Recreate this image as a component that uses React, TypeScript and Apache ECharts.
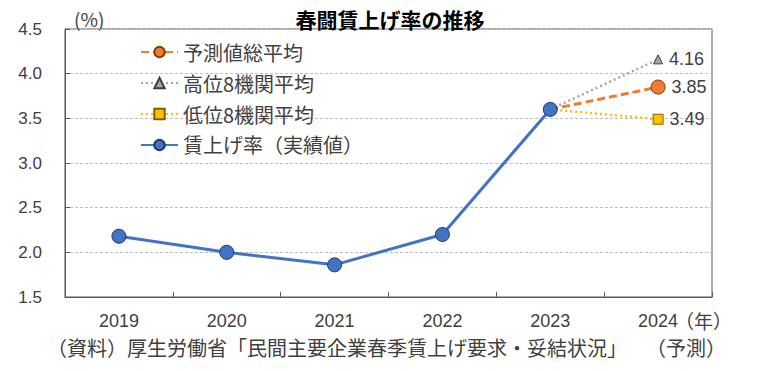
import React, { useEffect, useRef } from "react";
import * as echarts from "echarts";

const categories = ["2019", "2020", "2021", "2022", "2023", "2024"];
const actualValues = [2.18, 2.0, 1.86, 2.2, 3.6, null];
const forecastAvgValues = [null, null, null, null, 3.6, 3.85];
const highValues = [null, null, null, null, 3.6, 4.16];
const lowValues = [null, null, null, null, 3.6, 3.49];
const yTicks = { min: 1.5, max: 4.5, interval: 0.5 };

const FONT = "'Liberation Sans', 'Noto Sans CJK JP', sans-serif";
const CJK = "'Noto Sans CJK JP', sans-serif";
const TXT = "#404040";

function forecastData(values: (number | null)[]) {
  return values.map((v, i) => {
    if (v === null) return null;
    if (i === values.length - 1) {
      return { value: v, label: { show: true } };
    }
    return { value: v, symbol: "none" };
  });
}

export default function App() {
  const ref = useRef<HTMLDivElement>(null);
  useEffect(() => {
    if (!ref.current) return;
    const chart = echarts.init(ref.current, null, { renderer: "svg" });
    const labelStyle = {
      show: false,
      position: "right",
      distance: 6,
      fontSize: 18,
      color: TXT,
      fontFamily: FONT,
      formatter: (p: any) => Number(p.value).toFixed(2),
    };
    chart.setOption({
      animation: false,
      textStyle: { fontFamily: FONT },
      title: {
        text: "春闘賃上げ率の推移",
        left: 385,
        textAlign: "center",
        top: 3,
        textStyle: { fontSize: 21, fontWeight: "bold", color: "#000", fontFamily: CJK },
      },
      grid: {
        left: 65,
        right: 54,
        top: 29,
        bottom: 74,
        show: true,
        borderColor: "#595959",
        borderWidth: 1,
        backgroundColor: "transparent",
      },
      legend: {
        orient: "vertical",
        left: 135,
        top: 37,
        itemWidth: 37,
        itemHeight: 13,
        itemGap: 11,
        textStyle: { fontSize: 20, color: TXT, fontFamily: CJK },
        data: ["予測値総平均", "高位8機関平均", "低位8機関平均", "賃上げ率（実績値）"],
      },
      xAxis: {
        type: "category",
        data: categories,
        boundaryGap: true,
        axisLine: { show: true, lineStyle: { color: "#595959", width: 1 } },
        axisTick: { show: true, inside: true, length: 5, lineStyle: { color: "#595959" } },
        axisLabel: { fontSize: 18, color: TXT, margin: 15, fontFamily: FONT },
        splitLine: { show: false },
      },
      yAxis: {
        type: "value",
        min: yTicks.min,
        max: yTicks.max,
        interval: yTicks.interval,
        axisLine: { show: true, lineStyle: { color: "#595959", width: 1 } },
        axisTick: { show: true, inside: true, length: 5, lineStyle: { color: "#595959" } },
        axisLabel: {
          fontSize: 17,
          color: TXT,
          margin: 23,
          fontFamily: FONT,
          formatter: (v: number) => v.toFixed(1),
        },
        splitLine: { show: true, lineStyle: { color: "#BFBFBF", type: [3, 2], width: 1 } },
      },
      series: [
        {
          name: "予測値総平均",
          type: "line",
          data: forecastData(forecastAvgValues),
          symbol: "circle",
          symbolSize: 14,
          itemStyle: { color: "#ED7D31", borderColor: "#843C0C", borderWidth: 1 },
          lineStyle: { color: "#ED7D31", width: 3, type: [8, 4] },
          label: labelStyle,
          z: 3,
        },
        {
          name: "高位8機関平均",
          type: "line",
          data: forecastData(highValues),
          symbol: "triangle",
          symbolSize: 9,
          itemStyle: { color: "#A5A5A5", borderColor: "#404040", borderWidth: 1 },
          lineStyle: { color: "#A5A5A5", width: 2.5, type: [2, 3] },
          label: labelStyle,
          z: 2,
        },
        {
          name: "低位8機関平均",
          type: "line",
          data: forecastData(lowValues),
          symbol: "rect",
          symbolSize: 10,
          itemStyle: { color: "#FFC000", borderColor: "#7F6000", borderWidth: 1 },
          lineStyle: { color: "#FFC000", width: 2.5, type: [2, 3] },
          label: labelStyle,
          z: 2,
        },
        {
          name: "賃上げ率（実績値）",
          type: "line",
          data: actualValues,
          symbol: "circle",
          symbolSize: 14,
          itemStyle: { color: "#4472C4", borderColor: "#203864", borderWidth: 1 },
          lineStyle: { color: "#4472C4", width: 3 },
          z: 4,
        },
      ],
      graphic: [
        {
          type: "text",
          left: 74,
          top: 9,
          style: { text: "(%)", fontSize: 19, fill: TXT, fontFamily: CJK },
        },
        {
          type: "text",
          left: 675,
          top: 311,
          style: { text: "（年）", fontSize: 19, fill: TXT, fontFamily: CJK },
        },
        {
          type: "text",
          left: 47,
          top: 337,
          style: {
            text: "（資料）厚生労働省「民間主要企業春季賃上げ要求・妥結状況」",
            fontSize: 20,
            fill: TXT,
            fontFamily: CJK,
          },
        },
        {
          type: "text",
          left: 646,
          top: 337,
          style: { text: "（予測）", fontSize: 20, fill: TXT, fontFamily: CJK },
        },
      ],
    });
    return () => chart.dispose();
  }, []);
  return (
    <div
      ref={ref}
      style={{ position: "absolute", left: 0, top: 0, width: 766, height: 371, background: "#fff" }}
    />
  );
}
